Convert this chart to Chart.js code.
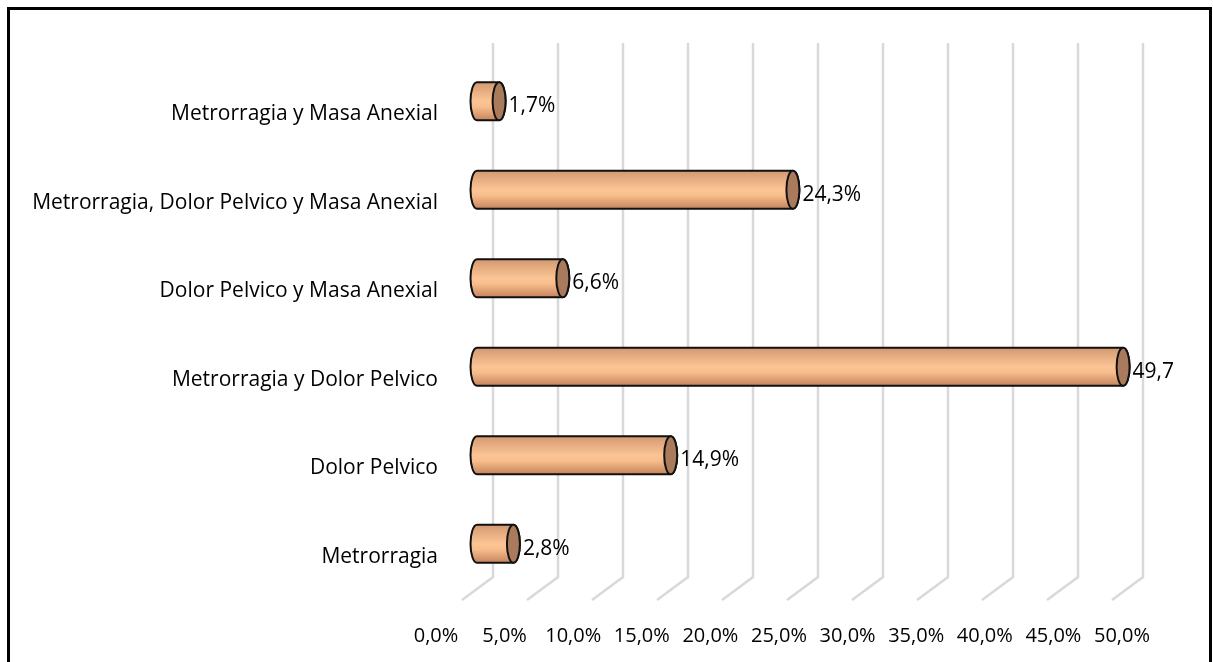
<!DOCTYPE html>
<html lang="es">
<head>
    <meta charset="UTF-8">
    <title>Síntomas</title>
    <script src="https://cdn.jsdelivr.net/npm/chart.js"></script>
    <style>
        html, body { margin: 0; padding: 0; background: #fff; overflow: hidden; }
        #wrap { position: relative; width: 1213px; height: 662px; }
        #frame { position: absolute; left: 7px; top: 7px; width: 1199px; height: 700px; border: 3px solid #000; pointer-events: none; }
        canvas { position: absolute; left: 0; top: 0; }
    </style>
</head>
<body>
<div id="wrap">
    <canvas id="chart" width="1213" height="662"></canvas>
    <div id="frame"></div>
</div>
<script>
    const categories = [
        'Metrorragia y Masa Anexial',
        'Metrorragia, Dolor Pelvico y Masa Anexial',
        'Dolor Pelvico y Masa Anexial',
        'Metrorragia y Dolor Pelvico',
        'Dolor Pelvico',
        'Metrorragia'
    ];
    const values = [1.7, 24.3, 6.6, 49.7, 14.9, 2.8];
    const valueLabels = ['1,7%', '24,3%', '6,6%', '49,7', '14,9%', '2,8%'];
    const tickValues = [0, 5, 10, 15, 20, 25, 30, 35, 40, 45, 50];

    const FONT = "'Open Sans', sans-serif";

    // 3D look: back wall gridlines + floor stubs
    const gridPlugin = {
        id: 'grid3d',
        beforeDatasetsDraw(chart) {
            const { ctx, chartArea: ca, scales: { x } } = chart;
            ctx.save();
            ctx.strokeStyle = '#d9d9d9';
            ctx.lineWidth = 2.5;
            tickValues.forEach(v => {
                const px = x.getPixelForValue(v);
                ctx.beginPath();
                ctx.moveTo(px + 16, ca.top - 14);
                ctx.lineTo(px + 16, ca.bottom - 11);
                ctx.lineTo(px - 15, ca.bottom + 12);
                ctx.stroke();
            });
            ctx.restore();
        }
    };

    const cylinderPlugin = {
        id: 'cylinders',
        afterDatasetsDraw(chart) {
            const { ctx } = chart;
            const meta = chart.getDatasetMeta(0);
            meta.data.forEach((bar, i) => {
                const { x, y, base, height } = bar.getProps(['x', 'y', 'base', 'height'], true);
                const ry = height / 2, rx = 6.5;
                const top = y - ry, bot = y + ry;
                const g = ctx.createLinearGradient(0, top, 0, bot);
                g.addColorStop(0, '#d39870');
                g.addColorStop(0.5, '#fcc595');
                g.addColorStop(0.65, '#f8bd8c');
                g.addColorStop(1, '#c4845c');
                ctx.save();
                ctx.lineWidth = 2;
                ctx.strokeStyle = '#111';
                ctx.beginPath();
                ctx.moveTo(base, top);
                ctx.lineTo(x, top);
                ctx.ellipse(x, y, rx, ry, 0, -Math.PI / 2, Math.PI / 2);
                ctx.lineTo(base, bot);
                ctx.ellipse(base, y, rx, ry, 0, Math.PI / 2, Math.PI * 1.5);
                ctx.closePath();
                ctx.fillStyle = g;
                ctx.fill();
                ctx.stroke();
                ctx.beginPath();
                ctx.ellipse(x, y, rx, ry, 0, 0, Math.PI * 2);
                ctx.fillStyle = '#a97a5b';
                ctx.fill();
                ctx.stroke();
                ctx.fillStyle = '#000';
                ctx.font = '21px ' + FONT;
                ctx.textAlign = 'left';
                ctx.textBaseline = 'middle';
                ctx.fillText(valueLabels[i], x + rx + 3, y + 5);
                ctx.restore();
            });
        }
    };

    new Chart(document.getElementById('chart'), {
        type: 'bar',
        data: {
            labels: categories,
            datasets: [{
                data: values,
                backgroundColor: 'rgba(0,0,0,0)',
                borderWidth: 0,
                barPercentage: 0.43,
                categoryPercentage: 1
            }]
        },
        options: {
            indexAxis: 'y',
            responsive: false,
            animation: false,
            layout: { padding: { left: 0, right: 70, top: 57, bottom: 0 } },
            plugins: { legend: { display: false }, tooltip: { enabled: false } },
            scales: {
                x: {
                    display: false,
                    min: -27 / 13,
                    max: 666 / 13
                },
                x2: {
                    type: 'linear',
                    position: 'bottom',
                    min: 1.0204,
                    max: 51.531,
                    grid: { display: false },
                    border: { display: false },
                    afterBuildTicks: s => { s.ticks = tickValues.map(v => ({ value: v })); },
                    afterFit: s => { s.height = 74; },
                    ticks: {
                        autoSkip: false,
                        maxRotation: 0,
                        padding: 28,
                        color: '#000',
                        font: { family: FONT, size: 20 },
                        callback: v => v.toFixed(1).replace('.', ',') + '%'
                    }
                },
                y: {
                    grid: { display: false, drawTicks: false },
                    border: { display: false },
                    afterFit: s => { s.width = 450; },
                    ticks: {
                        padding: 12,
                        labelOffset: 13,
                        color: '#000',
                        font: { family: FONT, size: 21 }
                    }
                }
            }
        },
        plugins: [gridPlugin, cylinderPlugin]
    });
</script>
</body>
</html>
